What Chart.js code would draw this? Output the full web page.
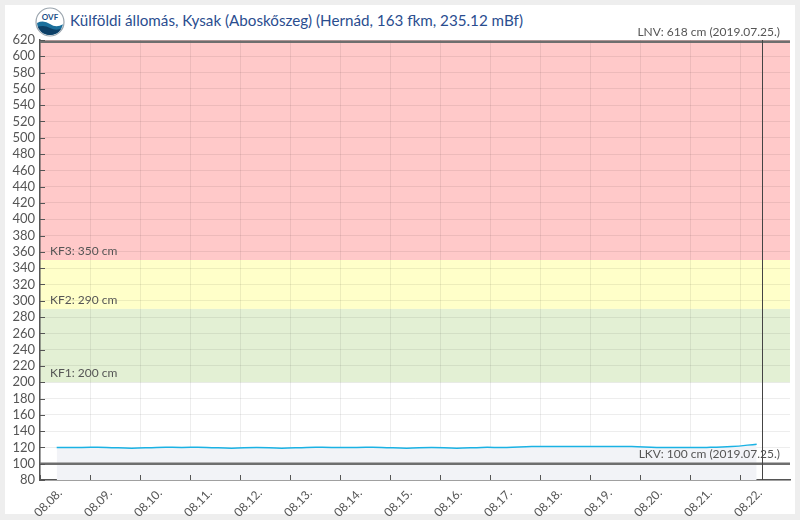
<!DOCTYPE html>
<html>
<head>
<meta charset="utf-8">
<script src="https://cdn.jsdelivr.net/npm/chart.js@4.4.1/dist/chart.umd.min.js"></script>
<style>
    body { margin: 0; background: #eeeeee; font-family: Lato, sans-serif; }
    #panel { position: absolute; left: 5px; top: 5px; width: 790px; height: 509px; background: #fff; }
    #wrap { position: absolute; left: 0; top: 0; width: 800px; height: 520px; }
    #title { position: absolute; left: 70px; top: 11px; font-size: 15.2px; color: #2a4d8f; white-space: nowrap; }
    #logo { position: absolute; left: 35px; top: 7px; }
</style>
</head>
<body>
<div id="panel"></div>
<svg id="logo" width="30" height="30" viewBox="0 0 30 30">
    <defs>
        <clipPath id="c"><circle cx="15" cy="15" r="13"/></clipPath>
    </defs>
    <circle cx="15" cy="15" r="14" fill="#fff" stroke="#9aa4ad" stroke-width="1.2"/>
    <g clip-path="url(#c)">
        <path d="M0 17 Q8 12 15 17 T30 16 V30 H0 Z" fill="#1b6f9c"/>
        <path d="M0 21 Q8 17 15 21 T30 20 V30 H0 Z" fill="#0d3f66"/>
    </g>
    <text x="15" y="13" text-anchor="middle" font-size="8" font-family="Lato" font-weight="bold" fill="#1b4f86">OVF</text>
</svg>
<div id="title">Külföldi állomás, Kysak (Aboskőszeg) (Hernád, 163 fkm, 235.12 mBf)</div>
<div id="wrap"><canvas id="chart" width="800" height="520"></canvas></div>
<script>
'use strict';

// hours since 08.08. 00:00
const hours = [8, 20, 32, 44, 56, 68, 80, 92, 104, 116, 128, 140, 152, 164, 176,
               188, 200, 212, 224, 236, 248, 260, 272, 284, 296, 308, 320, 332, 344];
const levels = [120, 120, 120, 119, 120, 120, 120, 119, 120, 119, 120, 120, 120, 120, 119,
                120, 119, 120, 120, 121, 121, 121, 121, 121, 120, 120, 120, 121, 124];

const dayLabels = ['08.08.', '08.09.', '08.10.', '08.11.', '08.12.', '08.13.', '08.14.',
                   '08.15.', '08.16.', '08.17.', '08.18.', '08.19.', '08.20.', '08.21.', '08.22.'];

const kfNames = ['KF1', 'KF2', 'KF3'];
const kfLevels = [200, 290, 350];
const lnvLevel = 618;
const lkvLevel = 100;
const lnvDate = '2019.07.25.';
const lkvDate = '2019.07.25.';
const nowHour = 346.7;

const bandColors = ['#e3f0d4', '#ffffc9', '#ffc9c9'];
const textColor = '#555';

const levelPlugin = {
    id: 'levels',
    beforeDraw(chart) {
        const { ctx, chartArea: a, scales: { y } } = chart;
        ctx.save();
        const tops = kfLevels.slice(1).concat([y.max]);
        kfLevels.forEach((lv, i) => {
            const y0 = y.getPixelForValue(lv);
            const y1 = y.getPixelForValue(tops[i]);
            ctx.fillStyle = bandColors[i];
            ctx.fillRect(a.left, y1, a.right - a.left, y0 - y1);
        });
        ctx.restore();
    },
    afterDatasetsDraw(chart) {
        const { ctx, chartArea: a, scales: { x, y } } = chart;
        ctx.save();
        ctx.font = '12px Lato';
        ctx.fillStyle = textColor;
        ctx.textBaseline = 'alphabetic';
        kfLevels.forEach((lv, i) => {
            ctx.textAlign = 'left';
            ctx.fillText(kfNames[i] + ': ' + lv + ' cm', a.left + 10, y.getPixelForValue(lv) - 5);
        });

        // LNV / LKV lines
        ctx.strokeStyle = '#6e6e6e';
        ctx.lineWidth = 2.5;
        [lnvLevel, lkvLevel].forEach(lv => {
            const py = y.getPixelForValue(lv);
            ctx.beginPath();
            ctx.moveTo(a.left, py);
            ctx.lineTo(a.right, py);
            ctx.stroke();
        });
        ctx.textAlign = 'right';
        ctx.fillText('LNV: ' + lnvLevel + ' cm (' + lnvDate + ')', a.right - 10, y.getPixelForValue(lnvLevel) - 6);
        ctx.fillText('LKV: ' + lkvLevel + ' cm (' + lkvDate + ')', a.right - 10, y.getPixelForValue(lkvLevel) - 6);

        // now marker
        const nx = Math.round(x.getPixelForValue(nowHour)) + 0.5;
        ctx.strokeStyle = '#444';
        ctx.lineWidth = 1;
        ctx.beginPath();
        ctx.moveTo(nx, a.top);
        ctx.lineTo(nx, a.bottom);
        ctx.stroke();

        // inward tick marks
        ctx.strokeStyle = '#555';
        y.ticks.forEach(t => {
            const py = Math.round(y.getPixelForValue(t.value)) + 0.5;
            ctx.beginPath();
            ctx.moveTo(a.left, py);
            ctx.lineTo(a.left + 5, py);
            ctx.stroke();
        });
        x.ticks.forEach(t => {
            const px = Math.round(x.getPixelForValue(t.value)) + 0.5;
            ctx.beginPath();
            ctx.moveTo(px, a.bottom);
            ctx.lineTo(px, a.bottom - 5);
            ctx.stroke();
        });
        ctx.restore();
    }
};

new Chart(document.getElementById('chart'), {
    type: 'line',
    data: {
        datasets: [{
            data: hours.map((h, i) => ({ x: h, y: levels[i] })),
            borderColor: '#1ab2e4',
            borderWidth: 1.5,
            backgroundColor: '#f2f3f7',
            fill: 'start',
            pointRadius: 0,
            tension: 0.4
        }]
    },
    options: {
        responsive: false,
        animation: false,
        layout: { padding: { top: 40, right: 10, left: 0, bottom: 0 } },
        plugins: { legend: { display: false }, tooltip: { enabled: false } },
        scales: {
            x: {
                type: 'linear',
                min: 0,
                max: 360,
                afterFit(s) { s.height = 40; },
                afterBuildTicks(s) { s.ticks = s.ticks.filter(t => t.value < 360); },
                ticks: {
                    stepSize: 24,
                    autoSkip: false,
                    maxRotation: 45,
                    minRotation: 45,
                    labelOffset: 20,
                    padding: 6,
                    color: textColor,
                    font: { family: 'Lato', size: 12 },
                    callback: v => dayLabels[v / 24] || ''
                },
                grid: { color: 'rgba(0,0,0,0.07)', drawTicks: false },
                border: { color: '#555', width: 1.5 }
            },
            y: {
                min: 80,
                max: 620,
                afterFit(s) { s.width = 40; },
                ticks: {
                    stepSize: 20,
                    autoSkip: false,
                    padding: 5,
                    color: textColor,
                    font: { family: 'Lato', size: 13 }
                },
                grid: { color: 'rgba(0,0,0,0.07)', drawTicks: false },
                border: { color: '#555', width: 1.5 }
            }
        }
    },
    plugins: [levelPlugin]
});
</script>
</body>
</html>
